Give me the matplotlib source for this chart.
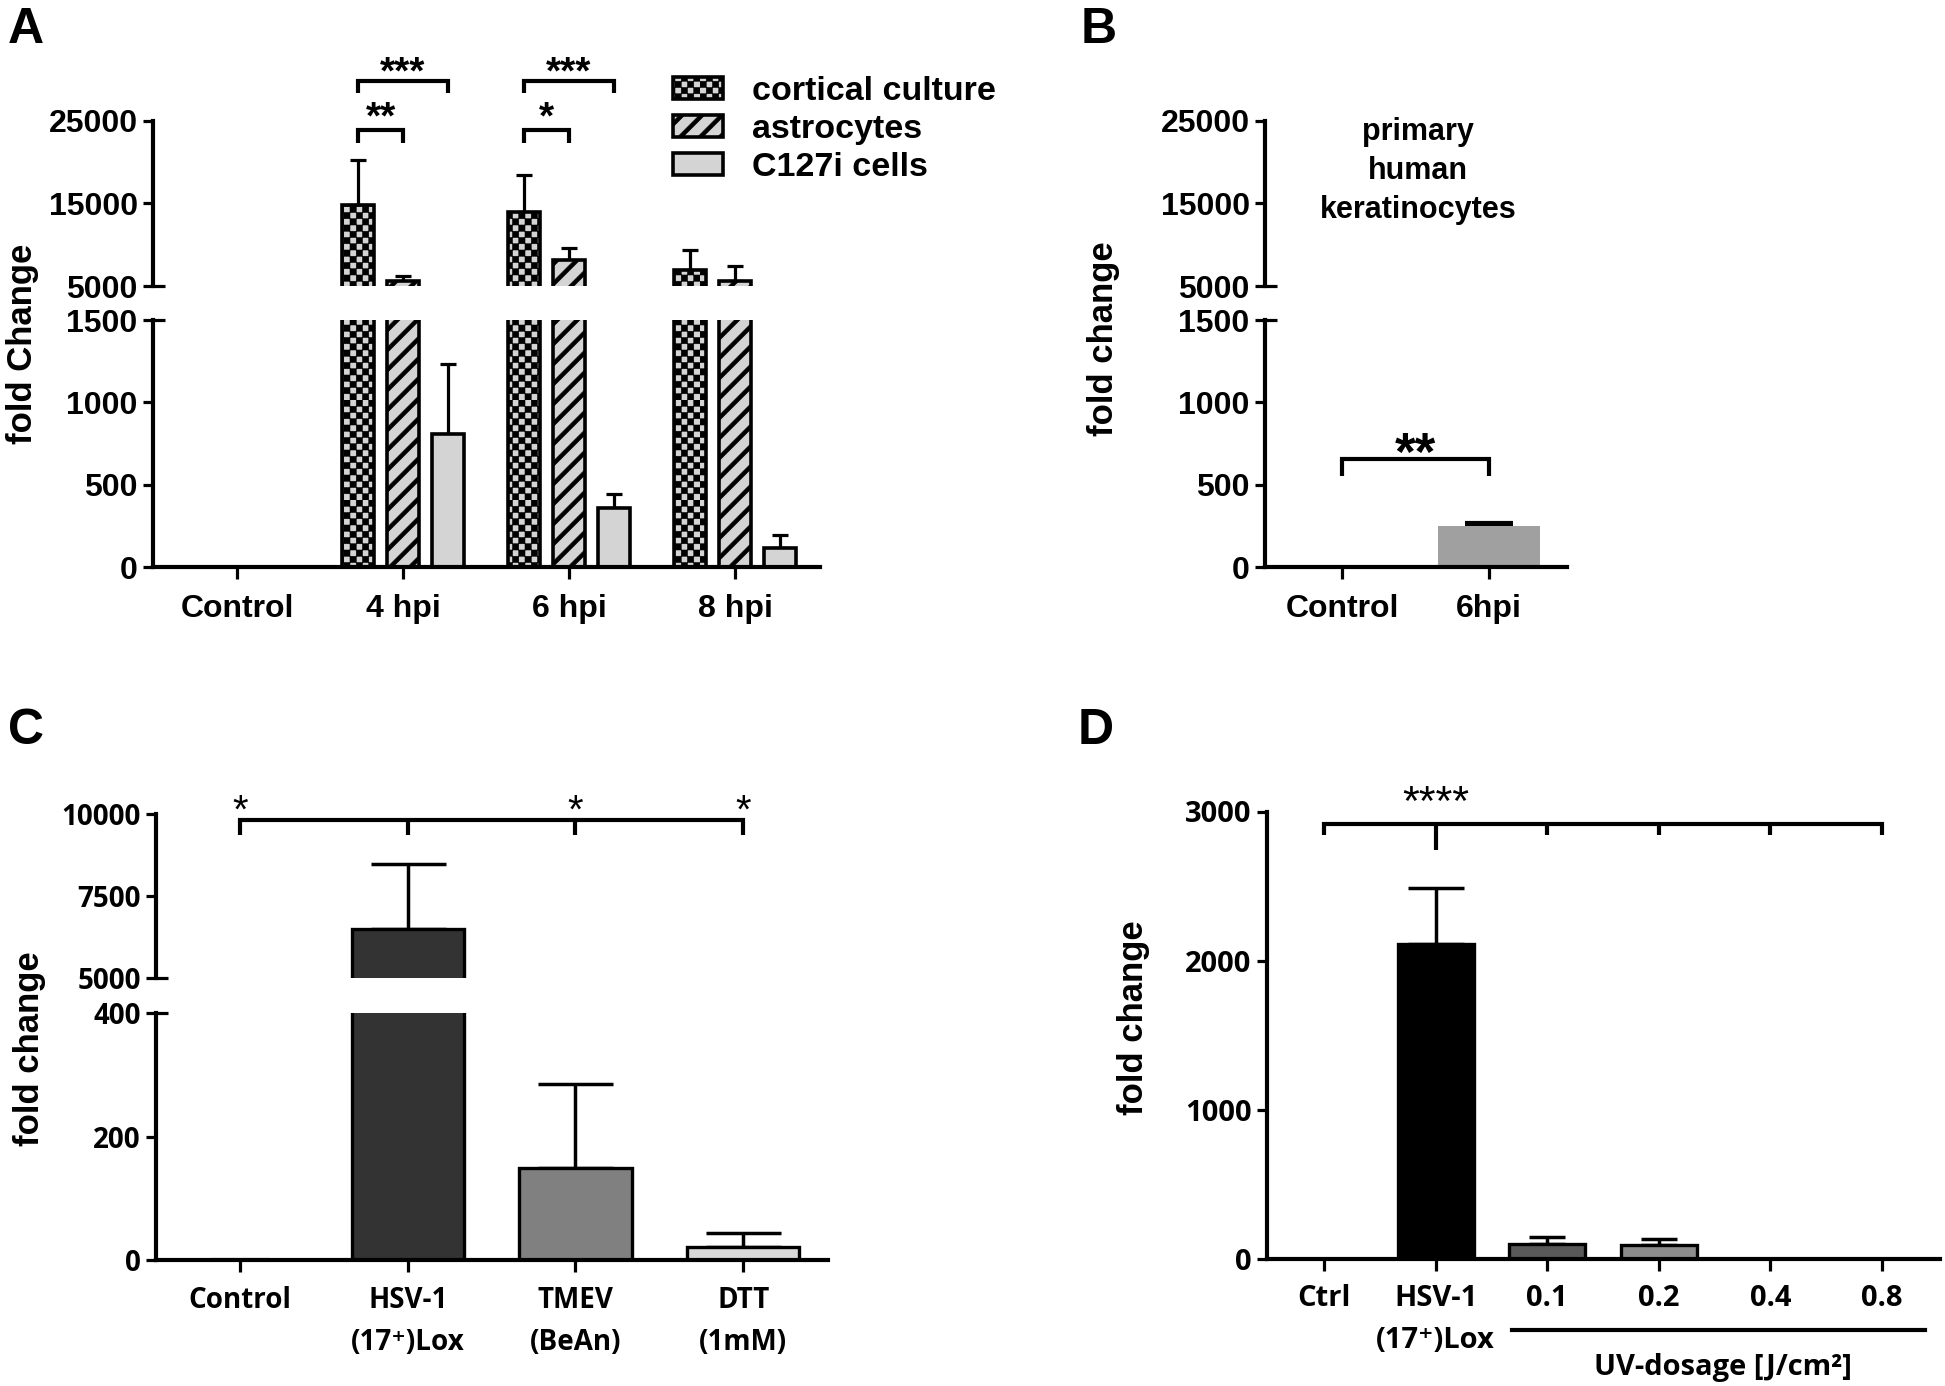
import numpy as np
import matplotlib
matplotlib.use("Agg")
import matplotlib.pyplot as plt
from matplotlib import hatch as mhatch
from matplotlib.path import Path
from matplotlib.transforms import blended_transform_factory

# ---------------- data ----------------
a_categories = ['Control', '4 hpi', '6 hpi', '8 hpi']
a_series = ['cortical culture', 'astrocytes', 'C127i cells']
a_cortical = [0, 14800, 14000, 6900]
a_cortical_err = [0, 5500, 4400, 2450]
a_astro = [0, 5550, 8150, 5650]
a_astro_err = [0, 650, 1500, 1750]
a_c127 = [0, 810, 358, 117]
a_c127_err = [0, 420, 86, 80]
a_lower_ticks = [0, 500, 1000, 1500]
a_upper_ticks = [5000, 15000, 25000]

b_categories = ['Control', '6hpi']
b_values = [0, 250]
b_err = [0, 17]
b_lower_ticks = [0, 500, 1000, 1500]
b_upper_ticks = [5000, 15000, 25000]

c_categories = ['Control', 'HSV-1\n(17\u207a)Lox', 'TMEV\n(BeAn)', 'DTT\n(1mM)']
c_values = [2, 6500, 149, 21]
c_err = [0, 1970, 136, 22]
c_lower_ticks = [0, 200, 400]
c_upper_ticks = [5000, 7500, 10000]

d_categories = ['Ctrl', 'HSV-1\n(17\u207a)Lox', '0.1', '0.2', '0.4', '0.8']
d_values = [0, 2113, 98, 94, 0, 0]
d_err = [0, 373, 47, 38, 0, 0]
d_ticks = [0, 1000, 2000, 3000]


# ---------------- custom hatches (checkerboard, thick stripes) ----------------
class CheckerHatch(mhatch.HatchPatternBase):
    def __init__(self, hatch, density):
        self.n = 16 if 'c' in hatch else 0
        self.num_vertices = (self.n * self.n // 2) * 5

    def set_vertices_and_codes(self, vertices, codes):
        n = self.n
        s = 1.0 / n
        sq = np.array([[0, 0], [s, 0], [s, s], [0, s], [0, 0]])
        parts = [sq + [i * s, j * s] for i in range(n) for j in range(n) if (i + j) % 2 == 0]
        vertices[:] = np.concatenate(parts)
        codes[:] = np.tile([Path.MOVETO, Path.LINETO, Path.LINETO, Path.LINETO, Path.CLOSEPOLY], len(parts))


class StripeHatch(mhatch.HatchPatternBase):
    def __init__(self, hatch, density):
        self.n = 5 if 'd' in hatch else 0
        self.ks = list(range(-self.n - 1, self.n + 2)) if self.n else []
        self.num_vertices = len(self.ks) * 5

    def set_vertices_and_codes(self, vertices, codes):
        t = 0.055
        parts = []
        for k in self.ks:
            c = k / self.n
            parts.append(np.array([[-0.5, -0.5 + c], [1.5, 1.5 + c], [1.5, 1.5 + c + t],
                                   [-0.5, -0.5 + c + t], [-0.5, -0.5 + c]]))
        vertices[:] = np.concatenate(parts)
        codes[:] = np.tile([Path.MOVETO, Path.LINETO, Path.LINETO, Path.LINETO, Path.CLOSEPOLY], len(parts))


mhatch._hatch_types.append(CheckerHatch)
mhatch._hatch_types.append(StripeHatch)
mhatch._validate_hatch_pattern = lambda h: None
plt.rcParams['hatch.linewidth'] = 0.4
plt.rcParams['hatch.color'] = 'black'

# ---------------- figure ----------------
W, H, DPI = 1945, 1386, 100
fig = plt.figure(figsize=(W / DPI, H / DPI), dpi=DPI, facecolor='white')

ARIAL = ['Liberation Sans', 'DejaVu Sans']
OPEN = ['Open Sans', 'DejaVu Sans']
LW = 3.0
TICKW = 2.3
TICKL = 7.5


def px_axes(left, right, top, bottom):
    return fig.add_axes([left / W, 1 - bottom / H, (right - left) / W, (bottom - top) / H])


def ftext(xpx, ypx, s, **kw):
    fig.text(xpx / W, 1 - ypx / H, s, **kw)


def base_style(ax, bottom=True, xpad=11):
    ax.spines['top'].set_visible(False)
    ax.spines['right'].set_visible(False)
    ax.spines['left'].set_linewidth(LW)
    ax.spines['bottom'].set_linewidth(LW)
    ax.set_facecolor('none')
    ax.tick_params(axis='y', which='major', direction='out', length=TICKL, width=TICKW, pad=3.5)
    ax.tick_params(axis='x', which='major', direction='out', length=8.5, width=TICKW, pad=xpad)
    if not bottom:
        ax.spines['bottom'].set_visible(False)
        ax.tick_params(axis='x', bottom=False, labelbottom=False)


def break_mark(ax, yval):
    ax.yaxis.remove_overlapping_locs = False
    ax.set_yticks([yval], minor=True)
    ax.tick_params(axis='y', which='minor', direction='in', length=8.5, width=TICKW, labelleft=False)


def set_yt(ax, ticks, fam, size):
    ax.set_yticks(ticks, labels=[str(t) for t in ticks], fontsize=size, fontweight='bold', fontfamily=fam)


def bracket(ax, x1, x2, ytop, yleg, lw=3.0):
    ax.plot([x1, x1, x2, x2], [yleg, ytop, ytop, yleg], color='black', lw=lw, clip_on=False,
            solid_joinstyle='miter', solid_capstyle='butt', zorder=5)


def stars(ax, x, y, s, size, weight='bold'):
    ax.text(x, y, s, ha='center', va='baseline', fontsize=size, fontweight=weight,
            fontfamily=ARIAL, clip_on=False, zorder=5)


def upper_errorbars(ax, x, vals, errs, capsize, lw, capthick=None):
    x = np.asarray(x, dtype=float)
    vals = np.asarray(vals, dtype=float)
    errs = np.asarray(errs, dtype=float)
    m = errs > 0
    if m.any():
        ax.errorbar(x[m], vals[m], yerr=[np.zeros(m.sum()), errs[m]], fmt='none', ecolor='black',
                    elinewidth=lw, capsize=capsize, capthick=capthick or lw, zorder=1)


# ================= Panel A =================
xa = np.arange(len(a_categories))
A_OFF, A_W, A_FACE = 0.27, 0.19, '#d4d4d4'
axA_lo = px_axes(153, 820, 320, 567)
axA_up = px_axes(153, 820, 121, 286)
series = [(a_cortical, a_cortical_err, -A_OFF, 'c'),
          (a_astro, a_astro_err, 0.0, 'd'),
          (a_c127, a_c127_err, A_OFF, None)]
handles = []
for ax in (axA_lo, axA_up):
    hs = []
    for vals, errs, dx, hat in series:
        bc = ax.bar(xa + dx, vals, A_W, color=A_FACE, edgecolor='black', linewidth=2.6,
                    hatch=hat, zorder=2)
        hs.append(bc)
        upper_errorbars(ax, xa + dx, vals, errs, 5.5, 2.3)
    handles = hs
    ax.set_xlim(-0.506, 3.512)

base_style(axA_lo, bottom=True)
base_style(axA_up, bottom=False)
axA_lo.set_ylim(0, 1500)
axA_up.set_ylim(5000, 25000)
set_yt(axA_lo, a_lower_ticks, ARIAL, 23)
set_yt(axA_up, a_upper_ticks, ARIAL, 23)
break_mark(axA_up, 5000)
break_mark(axA_lo, 1500)
axA_lo.set_xticks(xa, labels=a_categories, fontsize=23, fontweight='bold', fontfamily=ARIAL)

# significance brackets (panel A, upper segment)
for g, s2 in ((1, '**'), (2, '*')):
    bracket(axA_up, g - A_OFF, g + A_OFF, 29850, 28390)
    stars(axA_up, g, 29600, '***', 28)
    bracket(axA_up, g - A_OFF, g, 23900, 22330)
    stars(axA_up, g - A_OFF / 2, 24100, s2, 28)

fig.legend(handles, a_series, loc='upper left', bbox_to_anchor=(673 / W, 1 - 76 / H),
           frameon=False, prop={'family': ARIAL, 'weight': 'bold', 'size': 24.5},
           handlelength=1.47, handleheight=0.63, handletextpad=0.85, labelspacing=0.2,
           borderpad=0, borderaxespad=0)

# ================= Panel B =================
xb = np.arange(len(b_categories))
axB_lo = px_axes(1265, 1567, 320, 567)
axB_up = px_axes(1265, 1567, 121, 286)
for ax in (axB_lo, axB_up):
    ax.bar(xb, b_values, 0.70, color='#a0a0a0', edgecolor='none', zorder=2)
    upper_errorbars(ax, xb, b_values, b_err, 17, 3.0)
    ax.set_xlim(-0.524, 1.531)
base_style(axB_lo, bottom=True)
base_style(axB_up, bottom=False)
axB_lo.set_ylim(0, 1500)
axB_up.set_ylim(5000, 25000)
set_yt(axB_lo, b_lower_ticks, ARIAL, 23)
set_yt(axB_up, b_upper_ticks, ARIAL, 23)
break_mark(axB_up, 5000)
break_mark(axB_lo, 1500)
axB_lo.set_xticks(xb, labels=b_categories, fontsize=23, fontweight='bold', fontfamily=ARIAL)
bracket(axB_lo, 0, 1, 656, 552)
stars(axB_lo, 0.5, 590, '**', 38)
axB_up.text(0.517, 18940, 'primary\nhuman\nkeratinocytes', ha='center', va='center',
            fontsize=22, fontweight='bold', fontfamily=ARIAL, linespacing=1.4)

# ================= Panel C =================
xc = np.arange(len(c_categories))
c_colors = ['#cfcfcf', '#333333', '#808080', '#d9d9d9']
c_edges = ['#bdbdbd', 'black', 'black', 'black']
c_widths = [0.32, 0.67, 0.67, 0.67]
axC_lo = px_axes(156, 828, 1013, 1260)
axC_up = px_axes(156, 828, 814, 978)
for ax in (axC_lo, axC_up):
    ax.bar(xc, c_values, c_widths, color=c_colors, edgecolor=c_edges, linewidth=2.4, zorder=2)
    upper_errorbars(ax, xc, c_values, c_err, 27, 2.5)
    ax.set_xlim(-0.501, 3.506)
base_style(axC_lo, bottom=True, xpad=10)
base_style(axC_up, bottom=False)
axC_lo.set_ylim(0, 400)
axC_up.set_ylim(5000, 10000)
set_yt(axC_lo, c_lower_ticks, OPEN, 20)
set_yt(axC_up, c_upper_ticks, OPEN, 20)
break_mark(axC_up, 5000)
break_mark(axC_lo, 400)
axC_lo.set_xticks(xc, labels=c_categories, fontsize=20, fontweight='bold', fontfamily=OPEN,
                  linespacing=1.6)
axC_up.plot([0, 0, 3, 3], [9360, 9817, 9817, 9360], color='black', lw=3, clip_on=False,
            solid_joinstyle='miter', solid_capstyle='butt', zorder=5)
axC_up.vlines([1, 2], 9360, 9817, color='black', lw=3, clip_on=False, zorder=5)
for i in (0, 2, 3):
    stars(axC_up, xc[i], 9726, '*', 29, weight='normal')

# ================= Panel D =================
xd = np.arange(len(d_categories))
d_colors = ['white', 'black', '#595959', '#8c8c8c', 'white', 'white']
axD = px_axes(1267, 1940, 811.5, 1258.6)
axD.bar(xd, d_values, 0.68, color=d_colors, edgecolor='black', linewidth=2.4, zorder=2)
upper_errorbars(axD, xd[1:2], d_values[1:2], d_err[1:2], 20, 2.5)
upper_errorbars(axD, xd[2:], d_values[2:], d_err[2:], 13, 2.5)
axD.set_xlim(-0.511, 5.52)
axD.set_ylim(0, 3000)
base_style(axD, bottom=True, xpad=10)
set_yt(axD, d_ticks, OPEN, 21)
axD.set_xticks(xd, labels=d_categories, fontsize=21, fontweight='bold', fontfamily=OPEN,
               linespacing=1.6)
axD.plot([0, 0, 5, 5], [2840, 2917, 2917, 2840], color='black', lw=3, clip_on=False,
         solid_joinstyle='miter', solid_capstyle='butt', zorder=5)
axD.vlines([2, 3, 4], 2840, 2917, color='black', lw=3, clip_on=False, zorder=5)
axD.vlines([1], 2745, 2917, color='black', lw=3, clip_on=False, zorder=5)
stars(axD, 1, 2975, '****', 31, weight='normal')
trD = blended_transform_factory(axD.transData, axD.transAxes)
axD.plot([1.685, 5.385], [-0.16, -0.16], color='black', lw=3, transform=trD, clip_on=False)
axD.text(3.575, -0.2425, 'UV-dosage [J/cm\u00b2]', transform=trD, ha='center', va='center',
         fontsize=21, fontweight='bold', fontfamily=OPEN)

# ================= labels =================
for xp, yp, s in ((23, 344, 'fold Change'), (1103, 339, 'fold change'),
                  (30, 1049, 'fold change'), (1134, 1018, 'fold change')):
    ftext(xp, yp, s, rotation=90, ha='center', va='center', fontsize=25, fontweight='bold',
          fontfamily=ARIAL)
for xp, yp, s in ((8, 43, 'A'), (1081, 43, 'B'), (8, 744, 'C'), (1078, 744, 'D')):
    ftext(xp, yp, s, ha='left', va='baseline', fontsize=36, fontweight='bold', fontfamily=ARIAL)

fig.savefig('out.png', dpi=DPI, facecolor='white')
